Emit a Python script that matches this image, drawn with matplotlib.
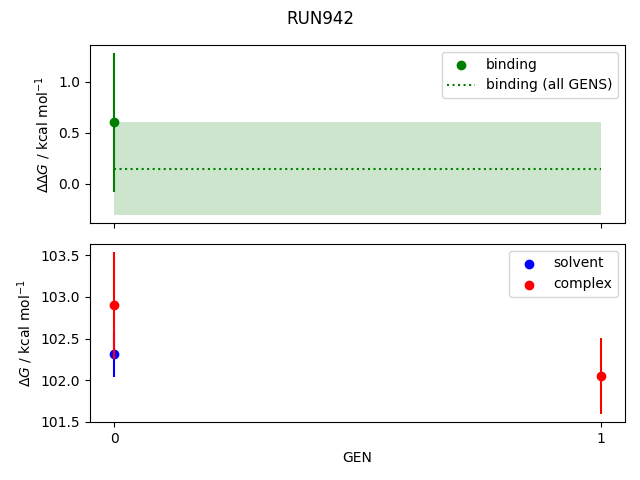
import numpy as np
import matplotlib
matplotlib.use('Agg')
import matplotlib.pyplot as plt

run_name = 'RUN942'
gens = [0, 1]

# binding free energy per gen (nan where missing)
binding = [0.60, np.nan]
binding_err = [0.68, np.nan]
binding_all = 0.145
binding_all_err = 0.455

solvent = [102.31, np.nan]
solvent_err = [0.27, np.nan]
complex_ = [102.90, 102.05]
complex_err = [0.64, 0.455]

fig, (ax1, ax2) = plt.subplots(2, 1, sharex=True, figsize=(6.4, 4.8), dpi=100)
fig.suptitle(run_name)

ax1.scatter(gens, binding, color='green', label='binding')
ax1.errorbar(gens, binding, yerr=binding_err, color='green', fmt='none')
ax1.hlines(binding_all, gens[0], gens[-1], color='green', linestyle=':', label='binding (all GENS)')
ax1.fill_between(gens, binding_all - binding_all_err, binding_all + binding_all_err,
                 color='green', alpha=0.2, linewidth=0)
ax1.set_ylabel(r'$\Delta\Delta G$ / kcal mol$^{-1}$')
ax1.legend()

ax2.scatter(gens, solvent, color='blue', label='solvent')
ax2.errorbar(gens, solvent, yerr=solvent_err, color='blue', fmt='none')
ax2.scatter(gens, complex_, color='red', label='complex')
ax2.errorbar(gens, complex_, yerr=complex_err, color='red', fmt='none')
ax2.set_ylabel(r'$\Delta G$ / kcal mol$^{-1}$')
ax2.set_xlabel('GEN')
ax2.set_xticks(gens)
ax2.legend()

fig.subplots_adjust(left=0.1406, right=0.9766, top=0.9062, bottom=0.1208, hspace=0.115)
plt.savefig('out.png')
